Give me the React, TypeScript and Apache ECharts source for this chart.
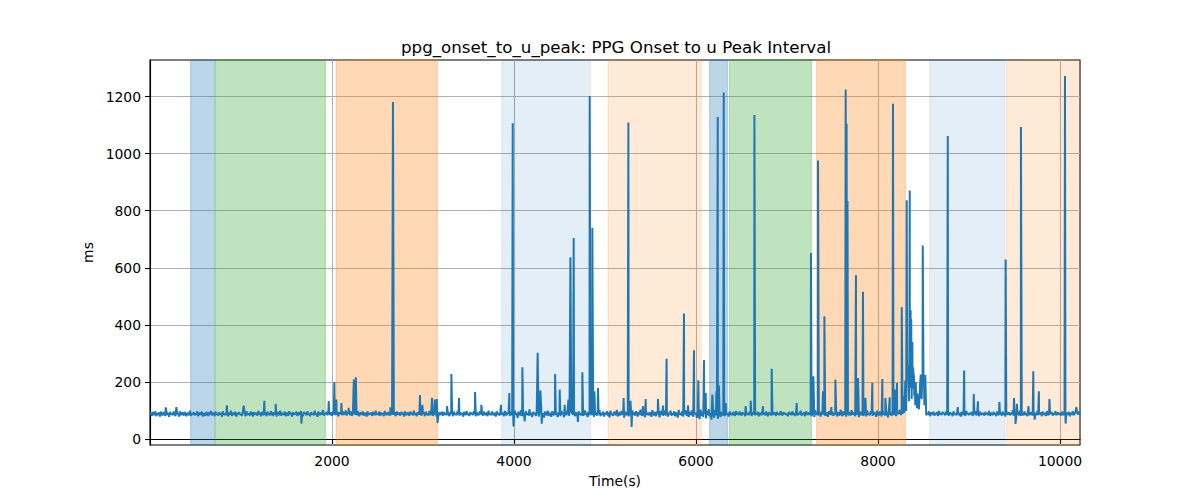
import React, { useEffect, useRef } from "react";
import * as echarts from "echarts";

const TITLE = "ppg_onset_to_u_peak: PPG Onset to u Peak Interval";
const X_LABEL = "Time(s)";
const Y_LABEL = "ms";
const X_TICKS = [2000, 4000, 6000, 8000, 10000];
const Y_TICKS = [0, 200, 400, 600, 800, 1000, 1200];
const X_MIN = 0;
const X_MAX = 10220;
const Y_MIN = -21;
const Y_MAX = 1328;

// baseline samples, one every BASE_STEP seconds from BASE_START (25 per row = 250 s)
const BASE_START = 0;
const BASE_STEP = 10;
const BASE_VALUES = [
  86, 92, 81, 95, 88, 84, 97, 80, 90, 85, 93, 79, 96, 87, 83, 94, 89, 81, 98, 85, 91, 78, 95, 86, 90,
  83, 96, 88, 80, 94, 86, 91, 79, 97, 84, 89, 93, 82, 95, 87, 80, 92, 88, 84, 99, 81, 90, 86, 94, 83,
  91, 85, 97, 80, 88, 93, 84, 96, 79, 90, 87, 82, 95, 89, 81, 94, 86, 98, 83, 88, 92, 80, 96, 85, 89,
  82, 94, 87, 91, 78, 97, 85, 90, 83, 95, 88, 80, 93, 86, 99, 81, 89, 92, 84, 96, 79, 90, 87, 94, 85,
  88, 81, 95, 86, 92, 80, 97, 84, 90, 87, 83, 96, 89, 79, 94, 85, 91, 88, 82, 98, 86, 93, 80, 95, 87,
  84, 92, 89, 80, 96, 85, 91, 83, 97, 88, 81, 94, 86, 90, 79, 95, 87, 84, 99, 82, 91, 88, 85, 96, 80,
  93, 86, 82, 97, 88, 91, 79, 94, 85, 90, 87, 96, 81, 89, 93, 84, 98, 86, 80, 95, 88, 92, 83, 97, 85,
  89, 80, 94, 87, 91, 83, 99, 85, 90, 78, 96, 88, 84, 93, 86, 101, 82, 91, 87, 95, 83, 98, 89, 85, 94,
  81, 97, 86, 92, 84, 99, 88, 80, 95, 87, 91, 83, 96, 85, 89, 100, 82, 94, 87, 90, 84, 97, 81, 93, 88,
  86, 91, 83, 98, 87, 80, 94, 89, 85, 96, 82, 92, 88, 79, 97, 84, 90, 86, 93, 81, 95, 88, 83, 99, 85,
  90, 84, 96, 81, 93, 87, 89, 80, 98, 85, 92, 83, 95, 88, 82, 97, 86, 91, 84, 94, 80, 96, 89, 85, 93,
  82, 95, 88, 91, 79, 97, 86, 84, 93, 89, 81, 96, 87, 92, 83, 99, 85, 90, 80, 94, 88, 86, 97, 82, 91,
  87, 93, 80, 96, 85, 89, 82, 98, 88, 84, 95, 81, 92, 87, 90, 79, 97, 86, 93, 84, 89, 96, 81, 94, 86,
  90, 83, 97, 86, 81, 94, 88, 92, 80, 96, 85, 89, 83, 98, 87, 82, 93, 86, 91, 79, 95, 88, 84, 97, 85,
  89, 81, 94, 87, 92, 84, 98, 86, 80, 95, 88, 83, 91, 97, 85, 90, 82, 96, 87, 84, 93, 80, 99, 86, 90,
  83, 96, 88, 84, 92, 79, 97, 86, 91, 82, 95, 89, 85, 93, 80, 98, 87, 83, 94, 88, 90, 81, 96, 85, 92,
  78, 99, 85, 90, 74, 96, 88, 83, 101, 80, 93, 87, 76, 98, 86, 91, 82, 104, 84, 89, 77, 95, 88, 92, 81,
  97, 85, 79, 94, 88, 102, 83, 90, 75, 96, 87, 84, 99, 81, 92, 86, 78, 97, 89, 83, 100, 85, 91, 77, 94,
  86, 80, 98, 88, 92, 76, 95, 84, 90, 103, 82, 87, 79, 96, 91, 85, 98, 80, 93, 88, 74, 97, 86, 90, 83,
  95, 81, 89, 100, 84, 92, 77, 96, 87, 83, 99, 85, 90, 78, 97, 88, 82, 94, 86, 101, 80, 91, 85, 96, 79,
  90, 87, 97, 82, 93, 76, 99, 85, 88, 81, 96, 90, 84, 102, 79, 94, 87, 83, 98, 86, 91, 75, 96, 88, 84,
  98, 80, 91, 86, 77, 100, 85, 93, 82, 97, 88, 79, 95, 84, 103, 87, 81, 96, 90, 76, 99, 85, 92, 83, 94,
  86, 78, 101, 89, 83, 95, 80, 97, 87, 91, 76, 98, 85, 93, 81, 100, 88, 84, 96, 79, 92, 87, 99, 82, 90,
  85, 97, 80, 93, 88, 75, 102, 86, 91, 83, 98, 79, 94, 87, 100, 81, 90, 77, 96, 89, 84, 101, 78, 95, 87,
  92, 74, 99, 86, 70, 103, 81, 95, 77, 100, 88, 72, 97, 84, 105, 79, 91, 68, 98, 86, 75, 102, 83, 94, 71,
  99, 85, 78, 96, 88, 82, 101, 80, 93, 86, 90, 79, 97, 85, 91, 83, 95, 87, 81, 98, 86, 92, 84, 96, 88,
  82, 94, 87, 91, 80, 97, 85, 89, 84, 96, 88, 81, 93, 86, 99, 83, 90, 87, 95, 80, 92, 88, 84, 97, 86,
  91, 83, 96, 88, 80, 94, 87, 90, 82, 98, 85, 89, 93, 81, 95, 86, 88, 84, 97, 90, 82, 94, 87, 91, 85,
  88, 80, 95, 86, 93, 83, 97, 85, 90, 81, 96, 88, 84, 92, 87, 99, 82, 91, 85, 94, 80, 97, 89, 86, 93,
  84, 97, 80, 92, 88, 77, 101, 85, 94, 82, 99, 87, 79, 96, 90, 84, 102, 81, 93, 88, 78, 98, 86, 91, 83,
  96, 81, 90, 87, 100, 79, 94, 86, 83, 103, 88, 80, 97, 85, 92, 78, 99, 87, 84, 95, 82, 101, 89, 85, 93,
  80, 98, 86, 91, 77, 95, 88, 84, 102, 81, 93, 87, 79, 100, 85, 90, 83, 97, 88, 81, 96, 86, 92, 78, 99,
  87, 83, 96, 90, 79, 101, 86, 92, 82, 98, 88, 76, 103, 85, 94, 81, 99, 89, 84, 106, 80, 95, 88, 91, 102,
  84, 95, 88, 110, 92, 205, 98, 240, 88, 132, 180, 250, 140, 176, 230, 150, 118, 135, 108, 126, 104, 170, 226, 140, 220,
  215, 118, 95, 83, 91, 86, 97, 80, 93, 88, 85, 96, 82, 90, 87, 94, 81, 98, 86, 89, 84, 95, 88, 91, 83,
  96, 85, 89, 82, 94, 87, 91, 80, 97, 86, 88, 83, 95, 90, 84, 92, 79, 96, 87, 85, 93, 81, 98, 88, 90,
  84, 92, 87, 95, 81, 90, 86, 97, 83, 89, 94, 80, 96, 87, 85, 91, 88, 82, 95, 86, 90, 84, 98, 81, 92,
  88, 83, 95, 86, 91, 80, 97, 87, 84, 93, 89, 82, 96, 85, 90, 79, 98, 86, 88, 94, 83, 91, 87, 100, 82,
  95, 86, 78, 97, 88, 84, 99, 81, 92, 87, 83, 96, 85, 90, 80, 98, 87, 84, 93, 89, 82, 95, 86, 91, 84,
  97, 83, 90, 86, 94, 80, 96, 88, 85, 92, 81, 98, 87, 84, 91, 89, 95, 82, 90, 86, 97, 83, 88, 93, 85,
  90, 82, 96, 87, 84, 99, 81, 93, 88, 85, 95, 80, 92, 86, 97, 83, 89, 94, 81, 90, 87, 96, 84,
];

// isolated spikes and dips (replace the baseline sample when the times coincide)
const EVENT_TIMES = [
  172, 290, 846, 1030, 1257, 1381, 1664, 1964, 2026, 2048, 2103, 2183, 2240, 2262,
  2642, 2670, 2967, 2993, 3099, 3129, 3152, 3160, 3264, 3312, 3396, 3572, 3641,
  3857, 3949, 3986, 3995, 4092, 4118, 4260, 4290, 4305, 4452, 4502, 4557, 4598,
  4620, 4656, 4702, 4751, 4832, 4861, 4884, 4923, 5205, 5257, 5280, 5292, 5418,
  5447, 5582, 5638, 5677, 5868, 5912, 5978, 6026, 6088, 6107, 6180, 6224, 6239,
  6252, 6305, 6327, 6546, 6601, 6642, 6736, 6832, 7107, 7264, 7290, 7341, 7396,
  7411, 7488, 7532, 7645, 7655, 7665, 7758, 7781, 7835, 7862, 7938, 8048, 8081,
  8129, 8165, 8184, 8209, 8261, 8279, 8316, 8330, 8345, 8349, 8359, 8365, 8378,
  8385, 8395, 8404, 8415, 8432, 8462, 8476, 8487, 8492, 8505, 8513, 8520, 8767,
  8877, 8947, 9052, 9099, 9334, 9403, 9495, 9511, 9527, 9571, 9653, 9707, 9722,
  9768, 9884, 10055, 10062, 10180,
];
const EVENT_VALUES = [
  111, 112, 118, 117, 134, 123, 54, 133, 200, 138, 126, 109, 208, 216,
  111, 1181, 154, 120, 144, 138, 140, 56, 115, 228, 144, 165, 120,
  120, 161, 1106, 44, 251, 62, 302, 171, 54, 228, 173, 120, 138,
  637, 704, 60, 234, 1202, 740, 167, 179, 144, 1109, 134, 42, 115,
  140, 140, 117, 281, 440, 118, 311, 206, 277, 161, 156, 167, 1128,
  187, 1214, 126, 115, 134, 1135, 115, 246, 126, 652, 220, 976, 167,
  430, 112, 208, 1225, 1105, 834, 574, 214, 516, 144, 196, 210, 144,
  146, 1175, 173, 196, 462, 150, 837, 255, 300, 871, 451, 420, 340,
  250, 220, 185, 200, 160, 190, 226, 215, 678, 222, 180, 224, 1062,
  112, 240, 158, 132, 130, 629, 144, 53, 123, 1093, 115, 237, 68,
  167, 140, 1272, 54, 112,
];

// shaded intervals
const SPAN_STARTS = [447, 720, 2044, 3865, 5033, 6150, 6367, 7326, 8568, 9413];
const SPAN_ENDS = [711, 1927, 3158, 4840, 6059, 6345, 7268, 8301, 9393, 10220];
const SPAN_KINDS = [
  "blue", "green", "orange", "lightblue", "lightorange",
  "blue", "green", "orange", "lightblue", "lightorange",
];

const SPAN_COLORS: Record<string, string> = {
  blue: "rgba(31,119,180,0.3)",
  green: "rgba(44,160,44,0.3)",
  orange: "rgba(255,127,14,0.3)",
  lightblue: "rgba(31,119,180,0.12)",
  lightorange: "rgba(255,127,14,0.16)",
};

const FONT = "DejaVu Sans";

function buildSeriesData(): [number, number][] {
  const byTime = new Map<number, number>();
  BASE_VALUES.forEach((v, i) => byTime.set(BASE_START + i * BASE_STEP, v));
  EVENT_TIMES.forEach((t, i) => byTime.set(t, EVENT_VALUES[i]));
  return Array.from(byTime.entries()).sort((a, b) => a[0] - b[0]) as [number, number][];
}

export default function App() {
  const ref = useRef<HTMLDivElement>(null);

  useEffect(() => {
    if (!ref.current) return;
    const chart = echarts.init(ref.current, undefined, { renderer: "svg" });

    const areas = SPAN_STARTS.map((s, i) => {
      const c = SPAN_COLORS[SPAN_KINDS[i]];
      return [
        { xAxis: s, itemStyle: { color: c, borderColor: c, borderWidth: 1 } },
        { xAxis: SPAN_ENDS[i] },
      ];
    });

    const axisCommon = {
      axisLine: { show: true, lineStyle: { color: "#000", width: 1.1 } },
      splitLine: { show: true, lineStyle: { color: "#b0b0b0", width: 1.1 } },
      nameLocation: "middle",
      nameTextStyle: { fontFamily: FONT, fontSize: 13.9, color: "#000" },
    };

    chart.setOption({
      animation: false,
      backgroundColor: "#ffffff",
      title: {
        text: TITLE,
        left: 611,
        top: 33,
        textAlign: "center",
        textStyle: { fontFamily: FONT, fontSize: 16.7, fontWeight: "normal", color: "#000" },
      },
      grid: {
        left: 150,
        top: 60,
        width: 930,
        height: 385,
        show: true,
        borderColor: "#000",
        borderWidth: 1.1,
        backgroundColor: "transparent",
      },
      xAxis: {
        ...axisCommon,
        type: "value",
        min: X_MIN,
        max: X_MAX,
        interval: 2000,
        name: X_LABEL,
        nameGap: 29,
        axisTick: { show: true, length: 5, lineStyle: { color: "#000", width: 1.1 }, customValues: X_TICKS },
        axisLabel: {
          customValues: X_TICKS,
          margin: 9,
          fontFamily: FONT,
          fontSize: 13.9,
          color: "#000",
          formatter: (v: number) => String(v),
        },
      },
      yAxis: {
        ...axisCommon,
        type: "value",
        min: Y_MIN,
        max: Y_MAX,
        name: Y_LABEL,
        nameGap: 41,
        nameRotate: 90,
        axisTick: { show: true, length: 5, lineStyle: { color: "#000", width: 1.1 }, customValues: Y_TICKS },
        axisLabel: {
          customValues: Y_TICKS,
          margin: 9,
          fontFamily: FONT,
          fontSize: 13.9,
          color: "#000",
          formatter: (v: number) => String(v),
        },
      },
      series: [
        {
          type: "line",
          data: buildSeriesData(),
          showSymbol: false,
          symbol: "none",
          lineStyle: { color: "#1f77b4", width: 2 },
          itemStyle: { color: "#1f77b4" },
          z: 3,
          silent: true,
          markArea: { silent: true, data: areas },
        },
      ],
    });

    return () => chart.dispose();
  }, []);

  return (
    <div
      ref={ref}
      style={{ position: "fixed", left: 0, top: 0, width: 1200, height: 500, background: "#fff" }}
    />
  );
}
